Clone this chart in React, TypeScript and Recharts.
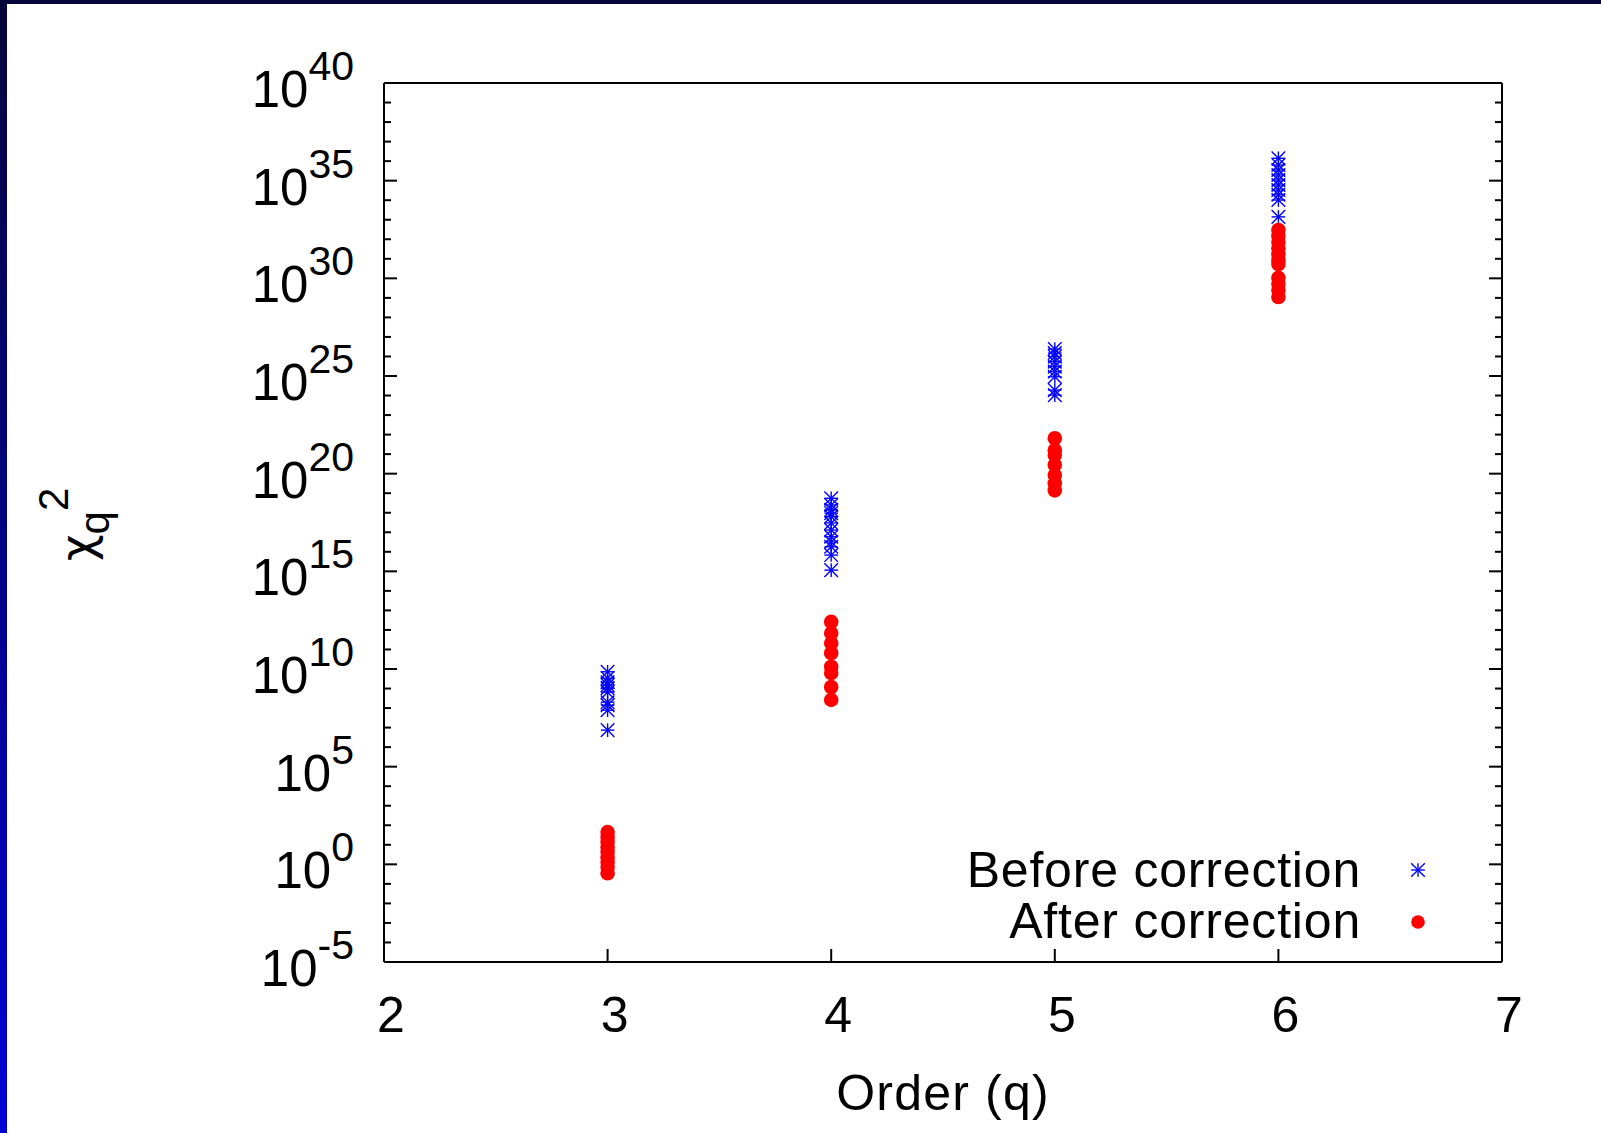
import { ScatterChart, Scatter, XAxis, YAxis } from "recharts";

// chi^2 values per order q
const ORDERS = [3, 4, 5, 6];

const BEFORE_Q3 = [7.2e9, 3.4e9, 2.1e9, 1.5e9, 1.05e9, 6.5e8, 2.0e8, 1.4e8, 7.8e7, 7.4e6];
const BEFORE_Q4 = [5.5e18, 2.5e18, 1.4e18, 9.5e17, 6.3e17, 3.0e17, 1.3e17, 5.9e16, 3.2e16, 1.8e16, 6.8e15, 1.15e15];
const BEFORE_Q5 = [2.4e26, 1.5e26, 9.8e25, 5.4e25, 3.0e25, 1.7e25, 9.1e24, 1.9e24, 1.05e24];
const BEFORE_Q6 = [1.4e36, 6.3e35, 3.5e35, 1.95e35, 1.07e35, 6.0e34, 3.3e34, 1.9e34, 1.02e34, 1.4e33];

const AFTER_Q3 = [45, 25, 14, 7.6, 4.3, 2.3, 1.3, 0.72, 0.35];
const AFTER_Q4 = [2.6e12, 6.9e11, 2.1e11, 6.6e10, 1.3e10, 6.2e9, 1.2e9, 2.6e8];
const AFTER_Q5 = [6.5e21, 1.6e21, 8.9e20, 2.8e20, 8.5e19, 3.2e19, 1.4e19];
const AFTER_Q6 = [3.0e32, 1.5e32, 7.2e31, 3.5e31, 1.7e31, 8.7e30, 5.4e30, 1.05e30, 5.1e29, 2.5e29, 1.1e29];

const BEFORE = [BEFORE_Q3, BEFORE_Q4, BEFORE_Q5, BEFORE_Q6];
const AFTER = [AFTER_Q3, AFTER_Q4, AFTER_Q5, AFTER_Q6];

const X_TICKS = [2, 3, 4, 5, 6, 7];
const Y_DOMAIN = [1e-5, 1e40];
// one tick per decade, labelled every fifth
const Y_TICKS = Array.from({ length: 46 }, (_, i) => Math.pow(10, i - 5));

const SERIES_NAMES = ["Before correction", "After correction"];

const toPoints = (groups: number[][]) =>
  ORDERS.flatMap((q, i) => groups[i].map((v) => ({ q, v })));

const beforeData = toPoints(BEFORE);
const afterData = toPoints(AFTER);

const FONT = "'Liberation Sans', Arial, Helvetica, sans-serif";
const BLUE = "#0000ff";
const RED = "#ff0000";

const Star = ({ cx, cy, r = 6.8 }: any) => (
  <g stroke={BLUE} strokeWidth={1.4}>
    <line x1={cx - r} x2={cx + r} y1={cy} y2={cy} />
    <line x1={cx} x2={cx} y1={cy - r} y2={cy + r} />
    <line x1={cx - r} x2={cx + r} y1={cy - r} y2={cy + r} />
    <line x1={cx - r} x2={cx + r} y1={cy + r} y2={cy - r} />
  </g>
);

const Dot = ({ cx, cy }: any) => <circle cx={cx} cy={cy} r={7.3} fill={RED} />;

const decade = (v: number) => Math.round(Math.log10(v));

const LeftTick = ({ x, y, payload }: any) => {
  const e = decade(payload.value);
  const major = e % 5 === 0;
  return (
    <g>
      <line x1={x} x2={x + (major ? 13 : 7)} y1={y} y2={y} stroke="#000" strokeWidth={2} />
      {major && (
        <text x={x - 30} y={y + 24} textAnchor="end" fontSize={51} fill="#000" fontFamily={FONT}>
          <tspan>10</tspan>
          <tspan dy={-27} fontSize={41}>
            {e}
          </tspan>
        </text>
      )}
    </g>
  );
};

const RightTick = ({ x, y, payload }: any) => {
  const major = decade(payload.value) % 5 === 0;
  return <line x1={x} x2={x - (major ? 13 : 7)} y1={y} y2={y} stroke="#000" strokeWidth={2} />;
};

const BottomTick = ({ x, y, payload }: any) => (
  <g>
    <line x1={x} x2={x} y1={y} y2={y - 13} stroke="#000" strokeWidth={2} />
    <text x={x + 7} y={y + 70} textAnchor="middle" fontSize={50} fill="#000" fontFamily={FONT}>
      {payload.value}
    </text>
  </g>
);

const TopTick = ({ x, y }: any) => (
  <line x1={x} x2={x} y1={y} y2={y + 13} stroke="#000" strokeWidth={2} />
);

export default function App() {
  return (
    <div
      style={{
        position: "absolute",
        left: 0,
        top: 0,
        width: 1601,
        height: 1133,
        background: "#fff",
        fontFamily: FONT,
        overflow: "hidden",
      }}
    >
      <div style={{ position: "absolute", left: 0, top: 0, width: 1601, height: 4, background: "#06063a" }} />
      <div
        style={{
          position: "absolute",
          left: 0,
          top: 0,
          width: 7,
          height: 1133,
          background: "linear-gradient(to bottom, #06063a, #0000d6)",
        }}
      />
      <ScatterChart width={1601} height={1133} margin={{ top: 0, right: 0, bottom: 0, left: 0 }}>
        <XAxis
          xAxisId="bottom"
          dataKey="q"
          type="number"
          domain={[2, 7]}
          ticks={X_TICKS}
          interval={0}
          height={171}
          tickSize={0}
          tickMargin={0}
          tickLine={false}
          axisLine={{ stroke: "#000", strokeWidth: 2 }}
          tick={<BottomTick />}
          allowDataOverflow
        />
        <XAxis
          xAxisId="top"
          orientation="top"
          type="number"
          domain={[2, 7]}
          ticks={X_TICKS}
          interval={0}
          height={83}
          tickSize={0}
          tickMargin={0}
          tickLine={false}
          axisLine={{ stroke: "#000", strokeWidth: 2 }}
          tick={<TopTick />}
          allowDataOverflow
        />
        <YAxis
          yAxisId="left"
          dataKey="v"
          type="number"
          scale="log"
          domain={Y_DOMAIN}
          ticks={Y_TICKS}
          interval={0}
          width={384}
          tickSize={0}
          tickMargin={0}
          tickLine={false}
          axisLine={{ stroke: "#000", strokeWidth: 2 }}
          tick={<LeftTick />}
          allowDataOverflow
        />
        <YAxis
          yAxisId="right"
          orientation="right"
          type="number"
          scale="log"
          domain={Y_DOMAIN}
          ticks={Y_TICKS}
          interval={0}
          width={99}
          tickSize={0}
          tickMargin={0}
          tickLine={false}
          axisLine={{ stroke: "#000", strokeWidth: 2 }}
          tick={<RightTick />}
          allowDataOverflow
        />
        <Scatter
          name={SERIES_NAMES[0]}
          data={beforeData}
          xAxisId="bottom"
          yAxisId="left"
          shape={(p: any) => <Star cx={p.cx} cy={p.cy} />}
          isAnimationActive={false}
        />
        <Scatter
          name={SERIES_NAMES[1]}
          data={afterData}
          xAxisId="bottom"
          yAxisId="left"
          shape={(p: any) => <Dot cx={p.cx} cy={p.cy} />}
          isAnimationActive={false}
        />
      </ScatterChart>
      <svg
        width={1601}
        height={1133}
        style={{ position: "absolute", left: 0, top: 0, pointerEvents: "none" }}
        fontFamily={FONT}
      >
        <text x={943} y={1110} textAnchor="middle" fontSize={50} letterSpacing={1.2} fill="#000">
          Order (q)
        </text>
        <text transform="translate(93, 561) rotate(-90)" fontSize={50} fill="#000">
          <tspan fontFamily="'DejaVu Sans', sans-serif" fontSize={46}>
            χ
          </tspan>
          <tspan dy={16} fontSize={42}>
            q
          </tspan>
          <tspan dy={-41} fontSize={42}>
            2
          </tspan>
        </text>
        <text x={1361} y={887} textAnchor="end" fontSize={50} letterSpacing={0.8} fill="#000">
          {SERIES_NAMES[0]}
        </text>
        <Star cx={1418} cy={870} />
        <text x={1361} y={938} textAnchor="end" fontSize={50} letterSpacing={0.8} fill="#000">
          {SERIES_NAMES[1]}
        </text>
        <circle cx={1418} cy={922} r={6.8} fill={RED} />
      </svg>
    </div>
  );
}
